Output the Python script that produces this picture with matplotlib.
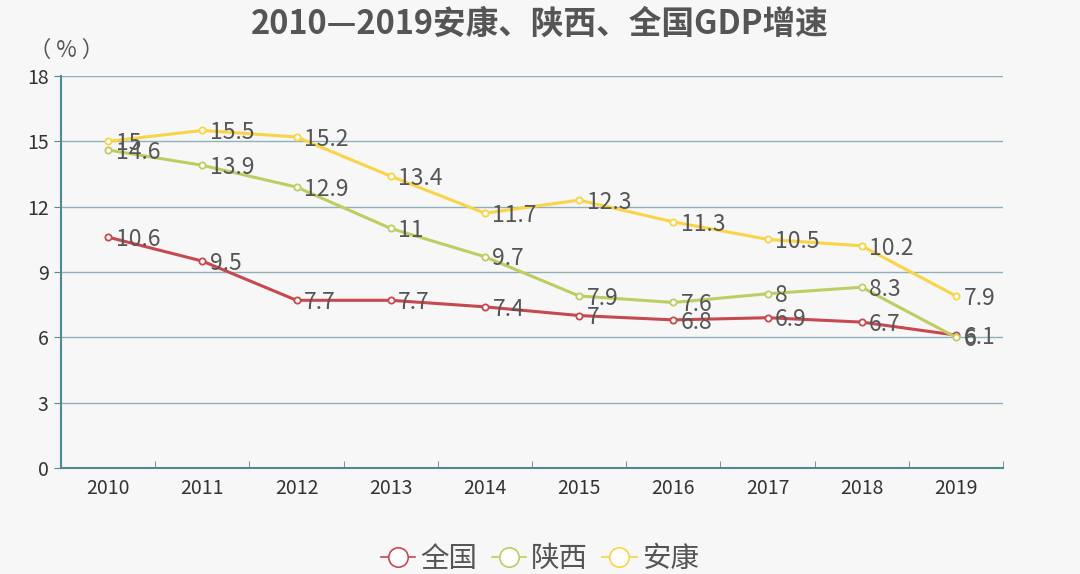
import matplotlib.pyplot as plt
import numpy as np

plt.rcParams['font.family'] = ['Noto Sans CJK SC', 'DejaVu Sans']

# 数据
years = ['2010', '2011', '2012', '2013', '2014', '2015', '2016', '2017', '2018', '2019']
quanguo = [10.6, 9.5, 7.7, 7.7, 7.4, 7, 6.8, 6.9, 6.7, 6.1]
shaanxi = [14.6, 13.9, 12.9, 11, 9.7, 7.9, 7.6, 8, 8.3, 6]
ankang = [15, 15.5, 15.2, 13.4, 11.7, 12.3, 11.3, 10.5, 10.2, 7.9]

series = [('全国', quanguo, '#c6494f'), ('陕西', shaanxi, '#bfcc62'), ('安康', ankang, '#f8d446')]

bg = '#f7f7f7'
fig = plt.figure(figsize=(10.8, 5.74), dpi=100, facecolor=bg)
ax = fig.add_axes([0.0565, 0.1847, 0.8722, 0.6829], facecolor=bg)

x = np.arange(len(years))
for name, vals, c in series:
    ax.plot(x, vals, color=c, lw=2.2, marker='o', ms=4.5, mfc='white', mec=c, mew=1.3, label=name, zorder=3)
    for xi, v in zip(x, vals):
        ax.text(xi + 0.08, v - 0.1, '%g' % v, fontsize=16.5, color='#555555', va='center', ha='left', zorder=4)

ax.set_xlim(-0.5, len(years) - 0.5)
ax.set_ylim(0, 18)
ax.set_yticks(range(0, 19, 3))
ax.set_xticks(x)
ax.set_xticklabels(years)
ax.set_xticks(np.arange(-0.5, len(years), 1), minor=True)
ax.tick_params(axis='x', which='major', length=0, labelsize=14, colors='#333333', pad=7)
ax.tick_params(axis='x', which='minor', length=5, color='#4f8a93', direction='in')
ax.tick_params(axis='y', length=5, color='#4f8a93', labelsize=14, labelcolor='#333333', direction='out', pad=4)
ax.grid(axis='y', color='#8fb0b6', lw=1)
for s in ['top', 'right']:
    ax.spines[s].set_visible(False)
ax.spines['left'].set_color('#4f8a93')
ax.spines['bottom'].set_color('#4f8a93')
ax.spines['left'].set_linewidth(1.5)
ax.spines['bottom'].set_linewidth(1.5)

fig.text(0.5, 0.958, '2010—2019安康、陕西、全国GDP增速', ha='center', va='center', fontsize=23.5, fontweight='bold', color='#555555')
fig.text(0.027, 0.912, '（ % ）', ha='left', va='center', fontsize=16, color='#555555')

leg = fig.legend(loc='lower center', bbox_to_anchor=(0.5, -0.045), ncol=3, frameon=False, fontsize=20.5,
                 handlelength=1.2, columnspacing=0.5, handletextpad=0.18)
for t in leg.get_texts():
    t.set_color('#555555')
for h in leg.get_lines():
    h.set_linewidth(1.2)
    h.set_markersize(14)
    h.set_markeredgewidth(1.2)

plt.savefig('out.png', dpi=100, facecolor=bg)
